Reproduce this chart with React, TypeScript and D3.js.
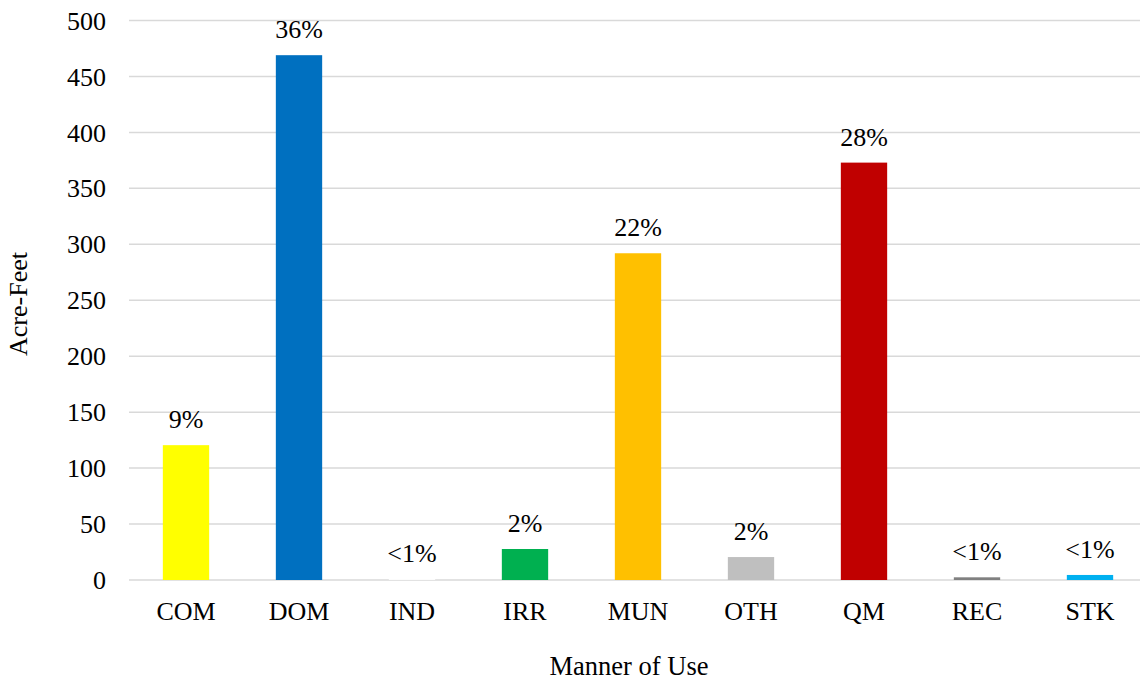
import React, { useEffect, useRef } from 'react';
import * as d3 from 'd3';

// manner of use categories and acre-feet values
const categories = ['COM', 'DOM', 'IND', 'IRR', 'MUN', 'OTH', 'QM', 'REC', 'STK'];
const acreFeet = [120.5, 469, 0.8, 27.7, 292, 20.5, 373, 2.4, 4.5];
const pctLabels = ['9%', '36%', '<1%', '2%', '22%', '2%', '28%', '<1%', '<1%'];
const barColors = ['#FFFF00', '#0070C0', '#FFFFFF', '#00B050', '#FFC000', '#BFBFBF', '#C00000', '#808080', '#00B0F0'];
const yTicks = [0, 50, 100, 150, 200, 250, 300, 350, 400, 450, 500];

const W = 1140, H = 683;
const FONT = '"Liberation Serif", "Times New Roman", serif';

export default function App() {
  const ref = useRef<SVGSVGElement>(null);

  useEffect(() => {
    const svg = d3.select(ref.current);
    svg.selectAll('*').remove();

    const x = d3.scaleBand<string>()
      .domain(categories)
      .range([129.5, 1146.5])
      .paddingInner(0.59)
      .paddingOuter(0.295);

    const y = d3.scaleLinear().domain([0, 500]).range([580, 20.5]);

    const txt = (sel: any) => sel
      .style('font-family', FONT)
      .style('font-size', '26px')
      .attr('fill', '#000');

    // gridlines
    svg.append('g')
      .selectAll('line')
      .data(yTicks)
      .join('line')
      .attr('x1', 129)
      .attr('x2', W)
      .attr('y1', d => y(d))
      .attr('y2', d => y(d))
      .attr('stroke', '#D9D9D9')
      .attr('stroke-width', 1.5);

    // y tick labels
    svg.append('g')
      .selectAll('text')
      .data(yTicks)
      .join('text')
      .attr('x', 106)
      .attr('y', d => y(d))
      .attr('dy', '0.35em')
      .attr('text-anchor', 'end')
      .call(txt)
      .text(d => d);

    // bars
    svg.append('g')
      .selectAll('rect')
      .data(categories)
      .join('rect')
      .attr('x', d => x(d)!)
      .attr('width', x.bandwidth())
      .attr('y', (d, i) => y(acreFeet[i]))
      .attr('height', (d, i) => y(0) - y(acreFeet[i]))
      .attr('fill', (d, i) => barColors[i]);

    // percent labels
    svg.append('g')
      .selectAll('text')
      .data(categories)
      .join('text')
      .attr('x', d => x(d)! + x.bandwidth() / 2)
      .attr('y', (d, i) => y(acreFeet[i]) - 17)
      .attr('text-anchor', 'middle')
      .call(txt)
      .text((d, i) => pctLabels[i]);

    // category labels
    svg.append('g')
      .selectAll('text')
      .data(categories)
      .join('text')
      .attr('x', d => x(d)! + x.bandwidth() / 2)
      .attr('y', 611)
      .attr('dy', '0.35em')
      .attr('text-anchor', 'middle')
      .call(txt)
      .text(d => d);

    // axis titles
    svg.append('text')
      .attr('x', 629)
      .attr('y', 666)
      .attr('dy', '0.35em')
      .attr('text-anchor', 'middle')
      .call(txt)
      .style('font-size', '26.5px')
      .text('Manner of Use');

    svg.append('text')
      .attr('transform', 'translate(18,304) rotate(-90)')
      .attr('dy', '0.35em')
      .attr('text-anchor', 'middle')
      .call(txt)
      .text('Acre-Feet');
  }, []);

  return (
    <svg ref={ref} width={W} height={H}
      style={{ position: 'absolute', left: 0, top: 0, background: '#fff' }} />
  );
}
